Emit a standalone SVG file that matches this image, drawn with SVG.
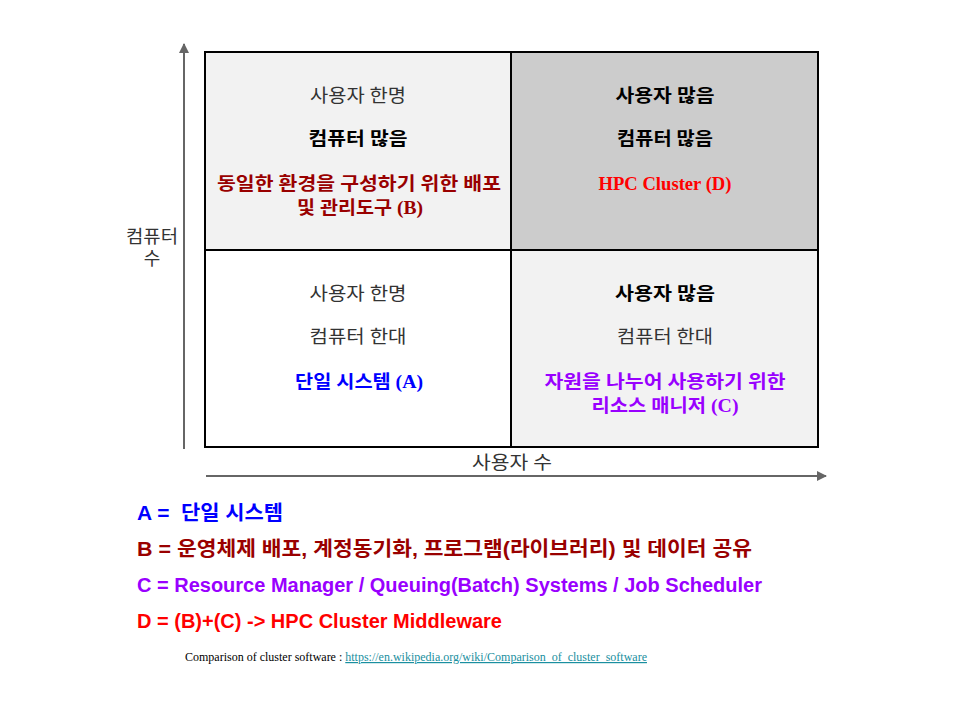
<svg xmlns="http://www.w3.org/2000/svg" width="960" height="720" viewBox="0 0 960 720">
<defs>
<style>
.cell{stroke:#000;stroke-width:2}
.t{font-family:"Liberation Serif","Noto Sans CJK KR",serif;font-size:18px;text-anchor:middle;fill:#333}
.b{font-weight:bold;fill:#000}
.leg{font-family:"Liberation Sans","Noto Sans CJK KR",sans-serif;font-size:20px;font-weight:bold}
.axis{stroke:#666;stroke-width:2;fill:none}
</style>
<marker id="ah" viewBox="0 0 10 10" refX="9" refY="5" markerWidth="5" markerHeight="5" orient="auto" markerUnits="strokeWidth">
<path d="M0,0 L10,5 L0,10 z" fill="#666"/>
</marker>
</defs>
<rect width="960" height="720" fill="#fff"/>
<g id="connectors">
<line class="axis" x1="184" y1="449" x2="184" y2="44" marker-end="url(#ah)"/>
<line class="axis" x1="206" y1="476" x2="826" y2="476" marker-end="url(#ah)"/>
</g>
<g id="cellB">
<rect class="cell" x="205" y="52" width="306" height="198" fill="#f2f2f2"/>
<text class="t" x="358" y="102" textLength="96" lengthAdjust="spacingAndGlyphs">사용자 한명</text>
<text class="t b" x="358" y="145" textLength="99" lengthAdjust="spacingAndGlyphs">컴퓨터 많음</text>
<text class="t b" x="359" y="190" textLength="284" lengthAdjust="spacingAndGlyphs" style="fill:#990000">동일한 환경을 구성하기 위한 배포</text>
<text class="t b" x="360" y="214" textLength="126" lengthAdjust="spacingAndGlyphs" style="fill:#990000">및 관리도구 (B)</text>
</g>
<g id="cellD">
<rect class="cell" x="511" y="52" width="307" height="198" fill="#cccccc"/>
<text class="t b" x="665" y="102" textLength="99" lengthAdjust="spacingAndGlyphs">사용자 많음</text>
<text class="t b" x="665" y="145" textLength="96" lengthAdjust="spacingAndGlyphs">컴퓨터 많음</text>
<text class="t b" x="665" y="190" textLength="133" lengthAdjust="spacingAndGlyphs" style="fill:#ff0000">HPC Cluster (D)</text>
</g>
<g id="cellA">
<rect class="cell" x="205" y="250" width="306" height="197" fill="#ffffff"/>
<text class="t" x="358" y="300" textLength="97" lengthAdjust="spacingAndGlyphs">사용자 한명</text>
<text class="t" x="358" y="343" textLength="97" lengthAdjust="spacingAndGlyphs">컴퓨터 한대</text>
<text class="t b" x="359" y="388" textLength="128" lengthAdjust="spacingAndGlyphs" style="fill:#0000ff">단일 시스템 (A)</text>
</g>
<g id="cellC">
<rect class="cell" x="511" y="250" width="307" height="197" fill="#f2f2f2"/>
<text class="t b" x="665" y="300" textLength="100" lengthAdjust="spacingAndGlyphs">사용자 많음</text>
<text class="t" x="665" y="343" textLength="96" lengthAdjust="spacingAndGlyphs">컴퓨터 한대</text>
<text class="t b" x="665" y="388" textLength="241" lengthAdjust="spacingAndGlyphs" style="fill:#9900ff">자원을 나누어 사용하기 위한</text>
<text class="t b" x="665" y="412" textLength="147" lengthAdjust="spacingAndGlyphs" style="fill:#9900ff">리소스 매니저 (C)</text>
</g>
<g id="axis-labels">
<text class="t" x="152" y="243" textLength="52" lengthAdjust="spacingAndGlyphs">컴퓨터</text>
<text class="t" x="152" y="265">수</text>
<text class="t" x="512" y="469" textLength="80" lengthAdjust="spacingAndGlyphs">사용자 수</text>
</g>
<g id="legend">
<text class="leg" x="137" y="520" fill="#0000ff" xml:space="preserve" textLength="146" lengthAdjust="spacingAndGlyphs">A =  단일 시스템</text>
<text class="leg" x="137" y="556" fill="#990000" textLength="615" lengthAdjust="spacingAndGlyphs">B = 운영체제 배포, 계정동기화, 프로그램(라이브러리) 및 데이터 공유</text>
<text class="leg" x="137" y="592" fill="#9900ff" textLength="625" lengthAdjust="spacingAndGlyphs">C = Resource Manager / Queuing(Batch) Systems / Job Scheduler</text>
<text class="leg" x="137" y="628" fill="#ff0000" textLength="365" lengthAdjust="spacingAndGlyphs">D = (B)+(C) -&gt; HPC Cluster Middleware</text>
</g>
<g id="footer">
<text x="185" y="661" font-family="Liberation Serif, serif" font-size="12" fill="#000" textLength="462" lengthAdjust="spacingAndGlyphs">Comparison of cluster software : <tspan fill="#1a8fa0" text-decoration="underline">https://en.wikipedia.org/wiki/Comparison_of_cluster_software</tspan></text>
</g>
</svg>
